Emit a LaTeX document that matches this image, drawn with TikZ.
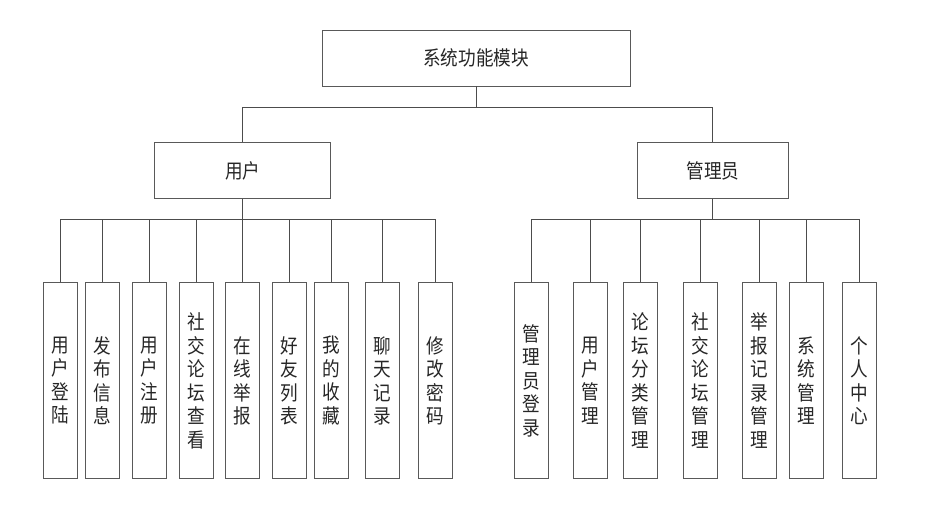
\documentclass[tikz,border=0pt]{standalone}
\usepackage{fontspec}
\setmainfont{Noto Sans CJK SC}[FakeStretch=0.88]
\begin{document}
\begin{tikzpicture}[x=1pt,y=-1pt,
  box/.style={draw=black!65, line width=0.9pt, inner sep=0pt, font=\fontsize{20}{23.5}\selectfont, text=black!85},
  leaf/.style={box, minimum width=34pt, minimum height=196pt, align=center},
  wire/.style={draw=black!70, line width=0.9pt}]
\useasboundingbox (0,0) rectangle (928,515);
\node[box, minimum width=308pt, minimum height=56pt] (top) at (476,58) {系统功能模块};
\node[box, minimum width=176.5pt, minimum height=56.5pt] (user) at (242.6,170.6) {用户};
\node[box, minimum width=151pt, minimum height=56.5pt] (admin) at (712.9,170.6) {管理员};
\coordinate (b1) at (0,107.3);
\coordinate (b2) at (0,219.3);
% user leaves
\node[leaf] (u1) at (60.3,380.7) {用\\户\\登\\陆};
\node[leaf] (u2) at (102.7,380.7) {发\\布\\信\\息};
\node[leaf] (u3) at (149.3,380.7) {用\\户\\注\\册};
\node[leaf] (u4) at (196,380.7) {社\\交\\论\\坛\\查\\看};
\node[leaf] (u5) at (242.7,380.7) {在\\线\\举\\报};
\node[leaf] (u6) at (289.3,380.7) {好\\友\\列\\表};
\node[leaf] (u7) at (331.7,380.7) {我\\的\\收\\藏};
\node[leaf] (u8) at (382.7,380.7) {聊\\天\\记\\录};
\node[leaf] (u9) at (435.3,380.7) {修\\改\\密\\码};
% admin leaves
\node[leaf] (a1) at (531,380.7) {管\\理\\员\\登\\录};
\node[leaf] (a2) at (590,380.7) {用\\户\\管\\理};
\node[leaf] (a3) at (640.7,380.7) {论\\坛\\分\\类\\管\\理};
\node[leaf] (a4) at (700.3,380.7) {社\\交\\论\\坛\\管\\理};
\node[leaf] (a5) at (759.7,380.7) {举\\报\\记\\录\\管\\理};
\node[leaf] (a6) at (806.3,380.7) {系\\统\\管\\理};
\node[leaf] (a7) at (859,380.7) {个\\人\\中\\心};
% connectors
\draw[wire] (top.south) -- (top.south |- b1);
\draw[wire] (user.north) -- (user.north |- b1) -- (admin.north |- b1) -- (admin.north);
\draw[wire] (user.south) -- (user.south |- b2);
\draw[wire] (admin.south) -- (admin.south |- b2);
\draw[wire] (u1.north |- b2) -- (u9.north |- b2);
\draw[wire] (a1.north |- b2) -- (a7.north |- b2);
\foreach \n in {u1,u2,u3,u4,u5,u6,u7,u8,u9,a1,a2,a3,a4,a5,a6,a7}
  \draw[wire] (\n.north) -- (\n.north |- b2);
\end{tikzpicture}
\end{document}
